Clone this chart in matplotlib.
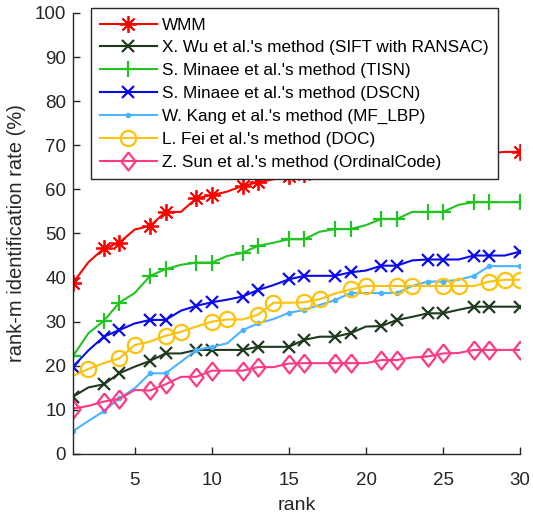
import matplotlib
matplotlib.use("Agg")
import matplotlib.pyplot as plt

plt.rcParams['font.family'] = ['Liberation Sans', 'DejaVu Sans']

rank = list(range(1, 31))

wmm = [38.8, 43.5, 46.6, 47.9, 50.9, 51.7, 54.9, 54.9, 58.0, 58.7,
       59.5, 60.8, 61.6, 62.3, 63.0, 63.6, 64.2, 64.8, 65.2, 65.7,
       66.1, 66.5, 66.8, 67.1, 67.4, 67.7, 68.0, 68.2, 68.5, 68.5]
sift = [13.0, 15.1, 15.8, 18.3, 19.8, 21.1, 22.8, 22.8, 23.6, 23.6,
        23.6, 23.6, 24.3, 24.3, 24.3, 25.9, 26.6, 26.6, 27.4, 28.9,
        29.0, 30.4, 31.1, 31.9, 31.9, 32.7, 33.4, 33.4, 33.4, 33.4]
tisn = [22.2, 27.4, 30.2, 34.3, 36.5, 40.4, 41.9, 42.9, 43.4, 43.4,
        44.9, 45.6, 47.2, 47.9, 48.7, 48.7, 50.4, 51.0, 51.0, 51.9,
        53.3, 53.3, 54.9, 54.9, 54.9, 56.5, 57.1, 57.1, 57.1, 57.1]
dscn = [19.8, 23.5, 26.6, 28.1, 29.6, 30.4, 30.4, 32.5, 33.6, 34.4,
        35.0, 35.7, 37.2, 38.3, 39.6, 40.4, 40.4, 40.4, 41.2, 41.6,
        42.7, 42.7, 43.9, 44.1, 44.1, 44.1, 45.0, 45.0, 45.0, 45.9]
mf_lbp = [5.2, 7.5, 9.7, 12.6, 14.9, 18.3, 18.3, 20.9, 23.6, 24.3,
          25.1, 28.1, 29.6, 30.6, 32.0, 32.7, 33.8, 34.9, 36.5, 36.5,
          36.5, 36.5, 38.1, 39.1, 39.1, 39.5, 40.4, 42.6, 42.6, 42.6]
doc = [17.7, 19.3, 20.6, 21.7, 24.7, 25.5, 26.8, 27.7, 28.9, 30.0,
       30.5, 30.5, 31.6, 34.3, 34.3, 34.4, 35.1, 36.4, 37.3, 38.1,
       38.1, 38.1, 38.1, 38.1, 38.1, 38.1, 38.1, 39.1, 39.5, 39.5]
ordinal = [10.3, 10.9, 11.9, 12.5, 14.5, 14.4, 15.8, 17.5, 17.5, 18.9,
           18.9, 18.9, 19.7, 19.7, 20.5, 20.6, 20.6, 20.6, 20.6, 20.6,
           21.3, 21.3, 21.9, 22.1, 22.8, 22.9, 23.6, 23.6, 23.6, 23.6]

labels = ["WMM",
          "X. Wu et al.'s method (SIFT with RANSAC)",
          "S. Minaee et al.'s method (TISN)",
          "S. Minaee et al.'s method (DSCN)",
          "W. Kang et al.'s method (MF_LBP)",
          "L. Fei et al.'s method (DOC)",
          "Z. Sun et al.'s method (OrdinalCode)"]

# marker positions (0-based indices)
idx_a = [i for i in range(30) if (i + 1) % 3 != 2]
idx_b = sorted(set([i for i in range(1, 30) if (i + 1) % 3 != 0] + [29]))

diamond = [(0, 1), (0.78, 0), (0, -1), (-0.78, 0), (0, 1)]

styles = [
    dict(color='#ff0000', marker=(8, 2, 0), ms=12, mfc='none', mew=1.3, markevery=idx_a),
    dict(color='#1f3a1f', marker='x', ms=8, mew=1.6, markevery=idx_a),
    dict(color='#22c422', marker='+', ms=11, mew=1.6, markevery=idx_a),
    dict(color='#0a0aee', marker='x', ms=8, mew=1.6, markevery=idx_a),
    dict(color='#4db3ff', marker='.', ms=6, markevery=idx_a),
    dict(color='#fcc20a', marker='o', ms=11, mfc='none', mew=1.6, markevery=idx_b),
    dict(color='#ff3a85', marker=diamond, ms=13, mfc='none', mew=1.6, markevery=idx_a),
]
series = [wmm, sift, tisn, dscn, mf_lbp, doc, ordinal]

fig = plt.figure(figsize=(5.33, 5.21), dpi=100)
ax = fig.add_axes([0.137, 0.1286, 0.839, 0.8465])

for vals, lab, st in zip(series, labels, styles):
    ax.plot(rank, vals, lw=1.5, label=lab, **st)

ax.set_xlim(1, 30)
ax.set_ylim(0, 100)
ax.set_xticks([5, 10, 15, 20, 25, 30])
ax.set_yticks(range(0, 101, 10))
ax.spines['top'].set_visible(False)
ax.spines['right'].set_visible(False)
for s in ('left', 'bottom'):
    ax.spines[s].set_color('#262626')
    ax.spines[s].set_linewidth(1.0)
ax.tick_params(direction='in', length=5, width=1.0, colors='#262626',
               labelsize=13.5, labelcolor='#262626')
ax.tick_params(axis='x', pad=13)
ax.tick_params(axis='y', pad=5)
ax.set_xlabel('rank', fontsize=14, color='#262626', labelpad=6)
ax.set_ylabel('rank-m identification rate (%)', fontsize=14.5, color='#262626', labelpad=6)

leg = ax.legend(loc='upper left', bbox_to_anchor=(0.04, 1.011), fontsize=12.3,
                frameon=True, fancybox=False, edgecolor='#262626', framealpha=1,
                handlelength=3.3, handletextpad=0.3, borderpad=0.55,
                labelspacing=0.46, borderaxespad=0)
leg.get_frame().set_linewidth(1.0)

fig.savefig('out.png', dpi=100)
